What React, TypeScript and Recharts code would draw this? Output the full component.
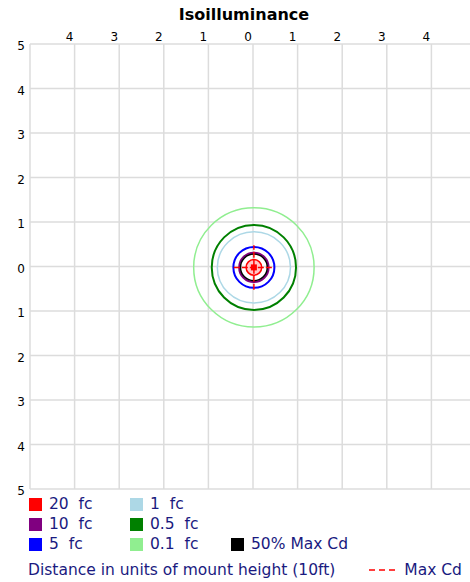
import React from 'react';
import {
  ScatterChart,
  Scatter,
  XAxis,
  YAxis,
  CartesianGrid,
  ReferenceArea,
  ReferenceLine,
} from 'recharts';

const axisTicks = [-5, -4, -3, -2, -1, 0, 1, 2, 3, 4, 5];

// contour levels (units of mount height)
const contourLevels = ['0.1 fc', '0.5 fc', '1 fc', '5 fc', '10 fc', '50% Max Cd', '20 fc'];
const contourRadiusX = [1.35, 0.945, 0.82, 0.46, 0.33, 0.3, 0.175];
const contourRadiusY = [1.34, 0.955, 0.8, 0.46, 0.33, 0.3, 0.175];
const centerPoint = [{ x: 0.02, y: -0.02 }];
const maxCdHalfLength = { x: 0.45, y: 0.5 };

const legendRows = [
  ['20 fc', '1 fc', ''],
  ['10 fc', '0.5 fc', ''],
  ['5 fc', '0.1 fc', '50% Max Cd'],
];

const colors: Record<string, string> = {
  '20 fc': '#ff0000',
  '10 fc': '#800080',
  '5 fc': '#0000ff',
  '1 fc': '#add8e6',
  '0.5 fc': '#008000',
  '0.1 fc': '#90ee90',
  '50% Max Cd': '#000000',
};

const strokes: Record<string, number> = {
  '0.1 fc': 1.5,
  '0.5 fc': 2,
  '1 fc': 1.5,
  '5 fc': 2,
  '10 fc': 2,
  '50% Max Cd': 1.5,
  '20 fc': 1.5,
};

const textBlue = '#1a1a80';
const font = '"DejaVu Sans", Verdana, sans-serif';

const ellipseShape = (level: string) => (props: any) => {
  const { x, y, width, height } = props;
  return (
    <ellipse
      cx={x + width / 2}
      cy={y + height / 2}
      rx={Math.abs(width) / 2}
      ry={Math.abs(height) / 2}
      fill={level === '20 fc' ? '#ffc8c8' : 'none'}
      stroke={colors[level]}
      strokeWidth={strokes[level]}
    />
  );
};

const Swatch = ({ label }: { label: string }) => (
  <div style={{ display: 'flex', alignItems: 'center', width: 101, height: 20, flexShrink: 0 }}>
    {label && (
      <>
        <span
          style={{ width: 13, height: 13, background: colors[label], marginRight: 7, flexShrink: 0 }}
        />
        <span style={{ whiteSpace: 'pre' }}>{label.replace(' fc', '  fc')}</span>
      </>
    )}
  </div>
);

export default function App() {
  const c = centerPoint[0];
  return (
    <div
      style={{
        position: 'absolute',
        left: 0,
        top: 0,
        width: 470,
        height: 582,
        overflow: 'hidden',
        background: '#fff',
        fontFamily: font,
      }}
    >
      <div
        style={{
          position: 'absolute',
          top: 5,
          left: 0,
          width: 488,
          textAlign: 'center',
          fontWeight: 'bold',
          fontSize: 16,
          color: '#000',
        }}
      >
        Isoilluminance
      </div>
      <ScatterChart width={480} height={505} margin={{ top: 14, right: 4, bottom: 16, left: 0 }}>
        <CartesianGrid stroke="#dcdcdc" strokeWidth={1.5} />
        <XAxis
          type="number"
          dataKey="x"
          orientation="top"
          domain={[-5, 5]}
          ticks={axisTicks}
          height={30}
          axisLine={false}
          tickLine={false}
          interval={0}
          tickFormatter={(v: number) => (Math.abs(v) === 5 ? '' : String(Math.abs(v)))}
          tick={{ fontSize: 12, fill: '#000', fontFamily: font, dx: -5, dy: 5 }}
        />
        <YAxis
          type="number"
          dataKey="y"
          domain={[-5, 5]}
          ticks={axisTicks}
          width={30}
          axisLine={false}
          tickLine={false}
          interval={0}
          tickFormatter={(v: number) => String(Math.abs(v))}
          tick={{ fontSize: 12, fill: '#000', fontFamily: font, dx: 3, dy: 2 }}
        />
        {contourLevels.map((level, i) => (
          <ReferenceArea
            key={level}
            x1={c.x - contourRadiusX[i]}
            x2={c.x + contourRadiusX[i]}
            y1={c.y - contourRadiusY[i]}
            y2={c.y + contourRadiusY[i]}
            shape={ellipseShape(level)}
          />
        ))}
        <ReferenceLine
          segment={[
            { x: c.x - maxCdHalfLength.x, y: c.y },
            { x: c.x + maxCdHalfLength.x, y: c.y },
          ]}
          stroke="#ff0000"
          strokeWidth={1.5}
          strokeDasharray="6 2"
        />
        <ReferenceLine
          segment={[
            { x: c.x, y: c.y - maxCdHalfLength.y },
            { x: c.x, y: c.y + maxCdHalfLength.y },
          ]}
          stroke="#ff0000"
          strokeWidth={1.5}
          strokeDasharray="6 2"
        />
        <Scatter
          data={centerPoint}
          isAnimationActive={false}
          shape={(p: any) => <rect x={p.cx - 3} y={p.cy - 3} width={6} height={6} fill="#ff0000" />}
        />
      </ScatterChart>
      <div
        style={{
          position: 'absolute',
          left: 29,
          top: 494,
          fontSize: 15.5,
          color: textBlue,
          lineHeight: '20px',
        }}
      >
        {legendRows.map((row, r) => (
          <div key={r} style={{ display: 'flex', width: 420 }}>
            {row.map((label, k) => (
              <Swatch key={k} label={label} />
            ))}
          </div>
        ))}
      </div>
      <div
        style={{
          position: 'absolute',
          left: 28,
          top: 560,
          fontSize: 15.5,
          color: textBlue,
          lineHeight: '20px',
          whiteSpace: 'nowrap',
          display: 'flex',
          alignItems: 'center',
        }}
      >
        <span>Distance in units of mount height (10ft)</span>
        <svg width={26} height={4} style={{ marginLeft: 34, marginRight: 9 }}>
          <line x1={0} y1={2} x2={26} y2={2} stroke="#ff0000" strokeWidth={1.5} strokeDasharray="6 4" />
        </svg>
        <span>Max Cd</span>
      </div>
    </div>
  );
}
